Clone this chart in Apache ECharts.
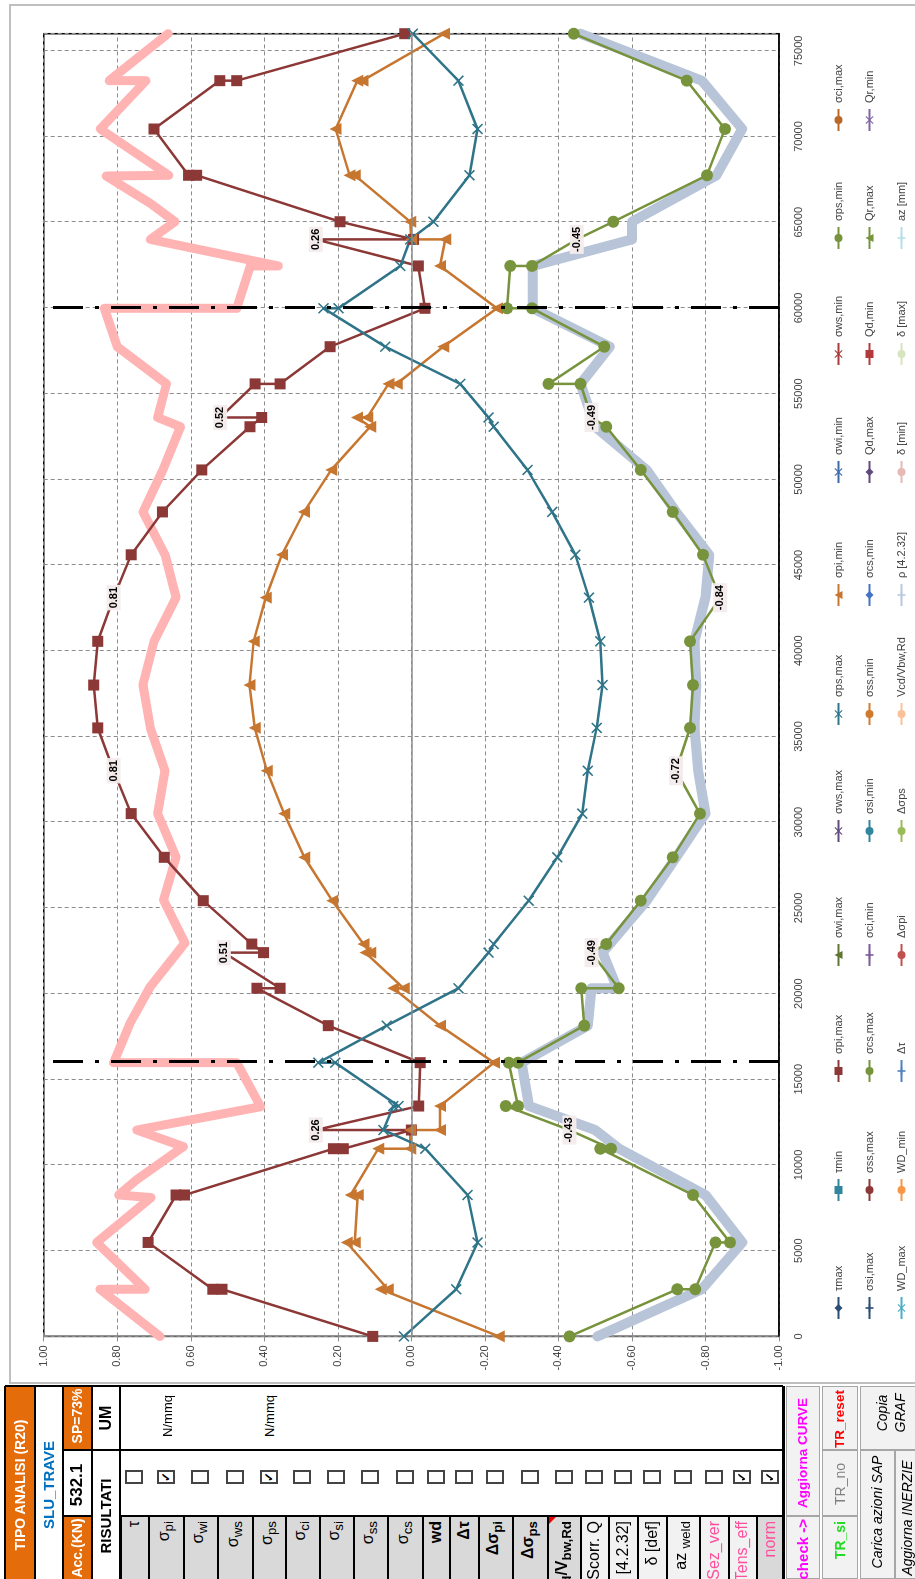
<!DOCTYPE html>
<html><head><meta charset="utf-8">
<script src="https://cdn.jsdelivr.net/npm/echarts/dist/echarts.min.js"></script>
<style>
html,body{margin:0;padding:0;background:#fff;width:915px;height:1579px;overflow:hidden;}
#chart{position:absolute;left:0;top:0;width:1390px;height:915px;transform-origin:0 0;transform:translate(0px,1390px) rotate(-90deg);background:#fff;}
#panel{position:absolute;left:0;top:0;width:915px;height:1579px;font-family:'Liberation Sans Narrow','Liberation Sans',Arial,sans-serif;}
</style></head>
<body>
<div id="chart"></div>
<div id="panel"></div>
<script>
// ---------------- DATA ----------------
// x = position along beam (mm), y = value; third element 1 = labelled point
const supports = [16000, 60000];
const positionRange = [0, 76000];
const valueRange = [-1, 1];

const sigmaPiMax = [
 [0,0.105],[2750,0.515],[2750,0.54],[5480,0.716],[8250,0.64],[8250,0.617],[10950,0.212],[10950,0.185],
 [12040,0.0],[12040,0.26,1],[13440,-0.02],[15970,-0.024],[18130,0.226],[20310,0.42],[20310,0.357],
 [22390,0.51,1],[22390,0.402],[22890,0.434],[25420,0.566],[27950,0.672],[30500,0.762],[33000,0.81,1],
 [35500,0.853],[38000,0.864],[40550,0.853],[43100,0.81,1],[45600,0.762],[48100,0.677],[50550,0.57],
 [53070,0.439],[53610,0.407],[53610,0.52,1],[55570,0.425],[55570,0.357],[57740,0.221],[59980,-0.037],
 [62450,-0.019],[64000,0.26,1],[64000,-0.006],[65030,0.194],[67740,0.584],[67740,0.606],[70440,0.70],
 [73260,0.521],[73260,0.475],[76000,0.018]
];
const sigmaPiMin = [
 [0,-0.238],[2750,0.083],[2750,0.064],[5480,0.176],[5480,0.154],[8250,0.146],[8250,0.165],[10950,0.09],
 [10950,0.003],[12040,0.003],[12040,-0.078],[13440,-0.078],[15970,-0.225],[18130,-0.078],[20310,0.049],
 [20310,0.021],[22390,0.125],[22390,0.112],[22890,0.13],[25420,0.215],[27950,0.291],[30500,0.346],
 [33000,0.393],[35500,0.426],[38000,0.44],[40550,0.429],[43100,0.396],[45600,0.352],[48100,0.292],
 [50550,0.218],[53070,0.112],[53610,0.148],[53610,0.12],[55570,0.062],[55570,0.04],[57740,-0.087],
 [59980,-0.233],[62450,-0.078],[64000,-0.092],[64000,0.0],[65030,0.003],[67740,0.154],[67740,0.168],
 [70440,0.206],[73260,0.147],[73260,0.133],[76000,-0.089]
];
const sigmaPsMax = [
 [0,0.02],[2750,-0.122],[5480,-0.18],[8250,-0.153],[10950,-0.038],[12040,0.076],[13440,0.049],[13440,0.035],
 [15970,0.207],[15970,0.253],[18130,0.067],[20310,-0.128],[22390,-0.21],[22890,-0.224],[25420,-0.319],
 [27950,-0.397],[30500,-0.465],[33000,-0.48],[35500,-0.504],[38000,-0.52],[40550,-0.514],[43100,-0.483],
 [45600,-0.446],[48100,-0.383],[50550,-0.316],[53070,-0.224],[53610,-0.21],[55570,-0.133],[57740,0.071],
 [59980,0.239],[59980,0.198],[62450,0.03],[64000,0.003],[65030,-0.06],[67740,-0.158],[70440,-0.18],
 [73260,-0.128],[76000,-0.004]
];
const sigmaPsMin = [
 [0,-0.43],[2750,-0.723],[2750,-0.772],[5480,-0.827],[5480,-0.867],[8250,-0.766],[10950,-0.514],[10950,-0.543],
 [12040,-0.43,1],[13440,-0.257],[13440,-0.29],[15970,-0.265],[15970,-0.29],[18130,-0.47],[20310,-0.462],
 [20310,-0.564],[22390,-0.49,1],[22890,-0.53],[25420,-0.624],[27950,-0.711],[30500,-0.785],[33000,-0.72,1],
 [35500,-0.758],[38000,-0.766],[40550,-0.758],[43100,-0.84,1],[45600,-0.793],[48100,-0.711],[50550,-0.624],
 [53070,-0.53],[53610,-0.49,1],[55570,-0.46],[55570,-0.373],[57740,-0.525],[59980,-0.328],[59980,-0.26],
 [62450,-0.269],[62450,-0.328],[64000,-0.45,1],[65030,-0.549],[67740,-0.804],[70440,-0.853],[73260,-0.749],
 [76000,-0.442]
];
const tensEff = [
 [0,0.684],[2750,0.847],[2750,0.724],[5480,0.856],[8100,0.708],[8250,0.796],[9140,0.747],[11070,0.62],
 [12040,0.747],[13400,0.41],[15970,0.475],[15970,0.81],[18280,0.765],[20380,0.711],[22950,0.616],[25460,0.674],
 [27950,0.64],[30500,0.69],[33000,0.67],[35500,0.71],[38000,0.73],[40550,0.70],[43100,0.64],[45600,0.67],
 [48100,0.73],[50550,0.676],[53070,0.628],[53610,0.69],[55570,0.666],[57740,0.80],[59980,0.835],[59980,0.475],
 [62450,0.438],[62450,0.362],[64000,0.71],[65030,0.643],[66100,0.71],[67700,0.83],[67740,0.66],[70440,0.846],
 [73260,0.722],[73260,0.822],[76000,0.662]
];
const normRho = [
 [0,-0.506],[2750,-0.79],[5480,-0.9],[8250,-0.8],[10950,-0.565],[12040,-0.5],[13440,-0.32],[15970,-0.3],
 [18130,-0.48],[20310,-0.49],[20310,-0.56],[22390,-0.52],[25420,-0.64],[27950,-0.72],[30500,-0.8],[33000,-0.78],
 [35500,-0.77],[38000,-0.775],[40550,-0.77],[43100,-0.8],[45600,-0.81],[48100,-0.72],[50550,-0.64],[53070,-0.5],
 [55570,-0.46],[57740,-0.54],[59980,-0.33],[62450,-0.33],[64000,-0.6],[65030,-0.6],[67740,-0.83],[70440,-0.9],
 [73260,-0.79],[76000,-0.46]
];

// legend grid: rows of names (as in reference)
const legendRows = [
 ['τmax','τmin','σpi,max','σwi,max','σws,max','σps,max','σpi,min','σwi,min','σws,min','σps,min','σci,max'],
 ['σsi,max','σss,max','σcs,max','σci,min','σsi,min','σss,min','σcs,min','Qd,max','Qd,min','Qr,max','Qr,min'],
 ['WD_max','WD_min','Δτ','Δσpi','Δσps','Vcd/Vbw,Rd','ρ [4.2.32]','δ [min]','δ [max]','az [mm]']
];
const legendColors = {
 'τmax':'#2C4D75','τmin':'#31859C','σpi,max':'#8C3836','σwi,max':'#5F7530','σws,max':'#5F4A7B','σps,max':'#2F7488',
 'σpi,min':'#C77630','σwi,min':'#3A6BA5','σws,min':'#A83A3A','σps,min':'#77933C','σci,max':'#B8692A',
 'σsi,max':'#2C4D75','σss,max':'#8C3836','σcs,max':'#77933C','σci,min':'#7A5A9B','σsi,min':'#31859C','σss,min':'#D07A2E',
 'σcs,min':'#4472C4','Qd,max':'#604A7B','Qd,min':'#B33A3A','Qr,max':'#77933C','Qr,min':'#8064A2',
 'WD_max':'#4BACC6','WD_min':'#F79646','Δτ':'#4F81BD','Δσpi':'#C0504D','Δσps':'#9BBB59','Vcd/Vbw,Rd':'#FAC09A',
 'ρ [4.2.32]':'#B9C7DF','δ [min]':'#E6B9B8','δ [max]':'#D7E4BD','az [mm]':'#B7DEE8'
};
const XPATH = 'path://M1,0 L5,4 L9,0 L10,1 L6,5 L10,9 L9,10 L5,6 L1,10 L0,9 L4,5 L0,1 Z';
const PLUSPATH = 'path://M4,0 L6,0 L6,4 L10,4 L10,6 L6,6 L6,10 L4,10 L4,6 L0,6 L0,4 L4,4 Z';
const legendSymbols = {
 'τmax':'diamond','τmin':'rect','σpi,max':'rect','σwi,max':'triangle','σws,max':XPATH,'σps,max':XPATH,
 'σpi,min':'triangle','σwi,min':XPATH,'σws,min':XPATH,'σps,min':'circle','σci,max':'circle',
 'σsi,max':PLUSPATH,'σss,max':'none','σcs,max':'none','σci,min':PLUSPATH,'σsi,min':'none','σss,min':'none',
 'σcs,min':'diamond','Qd,max':'diamond','Qd,min':'rect','Qr,max':'triangle','Qr,min':XPATH,
 'WD_max':XPATH,'WD_min':'circle','Δτ':PLUSPATH,'Δσpi':'none','Δσps':'none','Vcd/Vbw,Rd':'circle',
 'ρ [4.2.32]':PLUSPATH,'δ [min]':'none','δ [max]':'none','az [mm]':PLUSPATH
};

// ---------------- CHART ----------------
const FONT = "'Liberation Sans Narrow','Liberation Sans',Arial,sans-serif";
const CH_W = 1390;
const legendColScreenY = [1309,1191,1072,956,832,715,596,473,355,239,121];
const legendRowScreenX = [840,871,903];

function mkData(arr){
  return arr.map(p => p[2] ? {value:[p[0],p[1]], symbol:'circle', symbolSize:2, itemStyle:{color:'rgba(0,0,0,0)'},
     label:{show:true, position:'inside', formatter: p[1].toFixed(2), fontFamily:FONT, fontSize:11, fontWeight:'bold',
            color:'#000', backgroundColor:'rgba(244,236,236,0.95)', padding:[2,2,1,2]}} : [p[0],p[1]]);
}

const dataSeries = [
 {name:'Tens_eff', type:'line', z:1, data:mkData(tensEff), symbol:'none', lineStyle:{color:'#FFB3B3',width:9,cap:'round',join:'round'}, itemStyle:{color:'#FFB3B3'},
  markLine:{silent:true, symbol:['none','none'], label:{show:false}, lineStyle:{color:'#8C8C8C',width:1.5,type:'solid'}, data:[{yAxis:0}]}},
 {name:'norm', type:'line', z:1, data:mkData(normRho), symbol:'none', lineStyle:{color:'#B8C4D8',width:10,cap:'round',join:'round'}, itemStyle:{color:'#B8C4D8'},
  markLine:{silent:true, symbol:['none','none'], label:{show:false}, lineStyle:{color:'#000',width:3,type:[30,12,4,12]},
  data: supports.map(s=>({xAxis:s}))}},
 {name:'σpi,max', type:'line', z:3, data:mkData(sigmaPiMax), symbol:'rect', symbolSize:11, lineStyle:{color:'#8C3836',width:2.5,join:'round'}, itemStyle:{color:'#8C3836'}},
 {name:'σpi,min', type:'line', z:3, data:mkData(sigmaPiMin), symbol:'triangle', symbolSize:12, lineStyle:{color:'#C77630',width:2.5,join:'round'}, itemStyle:{color:'#C77630'}},
 {name:'σps,max', type:'line', z:3, data:mkData(sigmaPsMax), symbol:XPATH, symbolSize:11, lineStyle:{color:'#2F7488',width:2.5,join:'round'}, itemStyle:{color:'#2F7488'}},
 {name:'σps,min', type:'line', z:3, data:mkData(sigmaPsMin), symbol:'circle', symbolSize:12, lineStyle:{color:'#77933C',width:2.5,join:'round'}, itemStyle:{color:'#77933C'}}
];
const dataNames = dataSeries.map(s=>s.name);
const series = dataSeries.slice();
const legends = [];
legendRows.forEach((row, r) => {
  row.forEach((name, c) => {
    if (!dataNames.includes(name)) {
      const sym = legendSymbols[name];
      series.push({name, type:'line', data:[], symbol: sym, symbolSize:9,
        lineStyle:{color:legendColors[name], width:3.5}, itemStyle:{color:legendColors[name]}});
    }
    legends.push({show:true, data:[name], selectedMode:false, padding:0, itemGap:0,
      itemWidth:22, itemHeight:10,
      left: CH_W - legendColScreenY[c] - 11, top: legendRowScreenX[r] - 7,
      textStyle:{fontFamily:FONT, fontSize:11, color:'#404040', padding:[0,0,0,1]}});
  });
});

const chart = echarts.init(document.getElementById('chart'), null, {renderer:'canvas'});
chart.setOption({
  animation:false,
  backgroundColor:'#fff',
  graphic:[{type:'rect', shape:{x:7,y:10,width:1378,height:930}, style:{fill:'none',stroke:'#BFBFBF',lineWidth:2}, silent:true, z:-1}],
  grid:{left:53.6, right:33.7, top:43.7, bottom:136, show:true, borderColor:'#000', borderWidth:1.5, backgroundColor:'#fff', containLabel:false, outerBoundsMode:'none'},
  legend: legends,
  xAxis:{type:'value', min:positionRange[0], max:positionRange[1], interval:5000, position:'bottom',
    axisLine:{show:true, onZero:false, lineStyle:{color:'#000',width:1.5}}, axisTick:{show:false},
    axisLabel:{show:true, margin:14, fontFamily:FONT, fontSize:11, color:'#404040', formatter:v=>String(v), showMaxLabel:false, showMinLabel:true, hideOverlap:false},
    splitLine:{show:true, lineStyle:{color:'#8C8C8C', width:1, type:[4,3]}}},
  yAxis:{type:'value', min:valueRange[0], max:valueRange[1], interval:0.2,
    axisLine:{show:true, onZero:false, lineStyle:{color:'#8C8C8C',width:1.5}},
    axisTick:{show:true, inside:false, length:5, lineStyle:{color:'#8C8C8C'}},
    axisLabel:{show:true, margin:9, fontFamily:FONT, fontSize:11, color:'#404040', formatter:v=>v.toFixed(2), hideOverlap:false},
    splitLine:{show:true, lineStyle:{color:'#8C8C8C', width:1, type:[4,3]}}},
  series
});

// ---------------- SPREADSHEET PANEL ----------------
const panel = document.getElementById('panel');
function box(x,y,w,h,style){const d=document.createElement('div');d.style.cssText=`position:absolute;left:${x}px;top:${y}px;width:${w}px;height:${h}px;box-sizing:border-box;${style||''}`;panel.appendChild(d);return d;}
function vtext(x,y,html,style,anchor){
  const d=document.createElement('div');
  const tr = anchor==='top' ? 'rotate(-90deg) translate(-100%,-50%)' : anchor==='bottom' ? 'rotate(-90deg) translate(0,-50%)' : 'rotate(-90deg) translate(-50%,-50%)';
  d.style.cssText=`position:absolute;left:${x}px;top:${y}px;white-space:nowrap;transform-origin:0 0;transform:${tr};line-height:1.05;${style||''}`;
  d.innerHTML=html;panel.appendChild(d);return d;
}
const Y0=1386, Y1=1450, Y2=1516, YB=1579;
box(0,1385,915,194,'background:#fff;');
box(5,Y0,30,YB-Y0,'background:#E46C0A;');
box(63,Y0,29,Y1-Y0,'background:#E46C0A;');
box(63,Y2,29,YB-Y2,'background:#E46C0A;');
const colEdges=[120,148,183,217,252,285,319,353,387,422,449,478,512,547,580,608,637,666,699,728,756,783];
const colBg=['#D9D9D9','#D9D9D9','#D9D9D9','#D9D9D9','#D9D9D9','#D9D9D9','#D9D9D9','#D9D9D9','#D9D9D9','#D9D9D9','#D9D9D9','#D9D9D9','#D9D9D9','#D9D9D9','#F2F2F2','#F2F2F2','#F2F2F2','#F2F2F2','#F2F2F2','#F2F2F2','#D9D9D9'];
const colLabels=['τ','σ<sub>pi</sub>','σ<sub>wi</sub>','σ<sub>ws</sub>','σ<sub>ps</sub>','σ<sub>ci</sub>','σ<sub>si</sub>','σ<sub>ss</sub>','σ<sub>cs</sub>','<b>wd</b>','<b>Δτ</b>','<b>Δσ<sub>pi</sub></b>','<b>Δσ<sub>ps</sub></b>','<b>V<sub>cd</sub>/V<sub>bw,Rd</sub></b>','Scorr. Q','ρ [4.2.32]','δ [def]','az <sub>weld</sub>','Sez_ver','Tens_eff','norm'];
const colColors=['#000','#000','#000','#000','#000','#000','#000','#000','#000','#000','#000','#000','#000','#000','#000','#000','#000','#000','#FF4F9D','#FF4F9D','#FF4F9D'];
const checked=[false,true,false,false,true,false,false,false,false,false,false,false,false,false,false,false,false,false,false,true,true];
for(let i=0;i<colLabels.length;i++){
  const x0=colEdges[i], x1=colEdges[i+1], cx=(x0+x1)/2;
  box(x0,Y2,x1-x0,YB-Y2,`background:${colBg[i]};border-left:2px solid #000;`);
  vtext(cx,1521,colLabels[i],`font-size:16px;color:${colColors[i]};`,'top');
  box(cx-9,1470,18,14,'border:2px solid #444;background:#fff;');
  if(checked[i]) vtext(cx,1477,'<b>✓</b>','font-size:12px;color:#000;','center');
}
box(5,Y0-1,778,2,'background:#000;');
box(63,Y1-1,720,2,'background:#000;');
box(63,Y2-1,29,2,'background:#000;');
box(120,Y2-1,663,2,'background:#000;');
[5,35,63,92,120].forEach(x=>box(x-1,Y0,2,YB-Y0,'background:#000;'));
box(782,Y0,3,YB-Y0,'background:#000;');
box(549,Y2+1,0,0,'border-top:7px solid #E00;border-right:7px solid transparent;');
vtext(20,1485,'TIPO ANALISI (R20)','font-size:14px;font-weight:bold;color:#fff;');
vtext(49,1485,'SLU_TRAVE','font-size:15px;font-weight:bold;color:#0070C0;');
vtext(77,1416,'SP=73%','font-size:14px;font-weight:bold;color:#fff;');
vtext(77,1485,'532.1','font-size:17px;font-weight:bold;color:#000;');
vtext(77,1548,'Acc.(KN)','font-size:14px;font-weight:bold;color:#fff;');
vtext(106,1418,'UM','font-size:16px;font-weight:bold;color:#000;');
vtext(106,1516,'RISULTATI','font-size:15px;font-weight:bold;color:#000;');
vtext(168,1416,'N/mmq','font-size:13px;color:#000;');
vtext(270,1416,'N/mmq','font-size:13px;color:#000;');
box(786,Y0,34,Y2-Y0,'background:#F2F2F2;border:1px solid #A6A6A6;');
box(786,Y2,34,YB-Y2,'background:#F2F2F2;border:1px solid #A6A6A6;');
box(822,Y0,36,Y1-Y0,'background:#F2F2F2;border:1px solid #A6A6A6;');
box(822,Y1,36,Y2-Y1,'background:#F2F2F2;border:1px solid #A6A6A6;');
box(822,Y2,36,YB-Y2,'background:#F2F2F2;border:1px solid #A6A6A6;');
box(860,Y0,60,Y1-Y0,'background:#F2F2F2;border:1px solid #A6A6A6;');
box(860,Y1,35,YB-Y1,'background:#F2F2F2;border:1px solid #A6A6A6;');
box(895,Y1,30,YB-Y1,'background:#F2F2F2;border:1px solid #A6A6A6;');
vtext(803,1453,'Aggiorna CURVE','font-size:13.5px;font-weight:bold;color:#FF00FF;');
vtext(803,1519,'check -&gt;','font-size:15px;font-weight:bold;color:#FF00FF;','top');
vtext(840,1419,'TR_reset','font-size:13.5px;font-weight:bold;color:#FF0000;');
vtext(840,1484,'TR_no','font-size:14px;color:#808080;');
vtext(840,1521,'TR_si','font-size:14px;font-weight:bold;color:#22DD22;','top');
vtext(882,1413,'<i>Copia</i>','font-size:14px;color:#000;');
vtext(900,1413,'<i>GRAF</i>','font-size:14px;color:#000;');
vtext(877,1512,'<i>Carica azioni SAP</i>','font-size:14px;color:#000;');
vtext(907,1518,'<i>Aggiorna INERZIE</i>','font-size:14px;color:#000;');
</script>
</body></html>
